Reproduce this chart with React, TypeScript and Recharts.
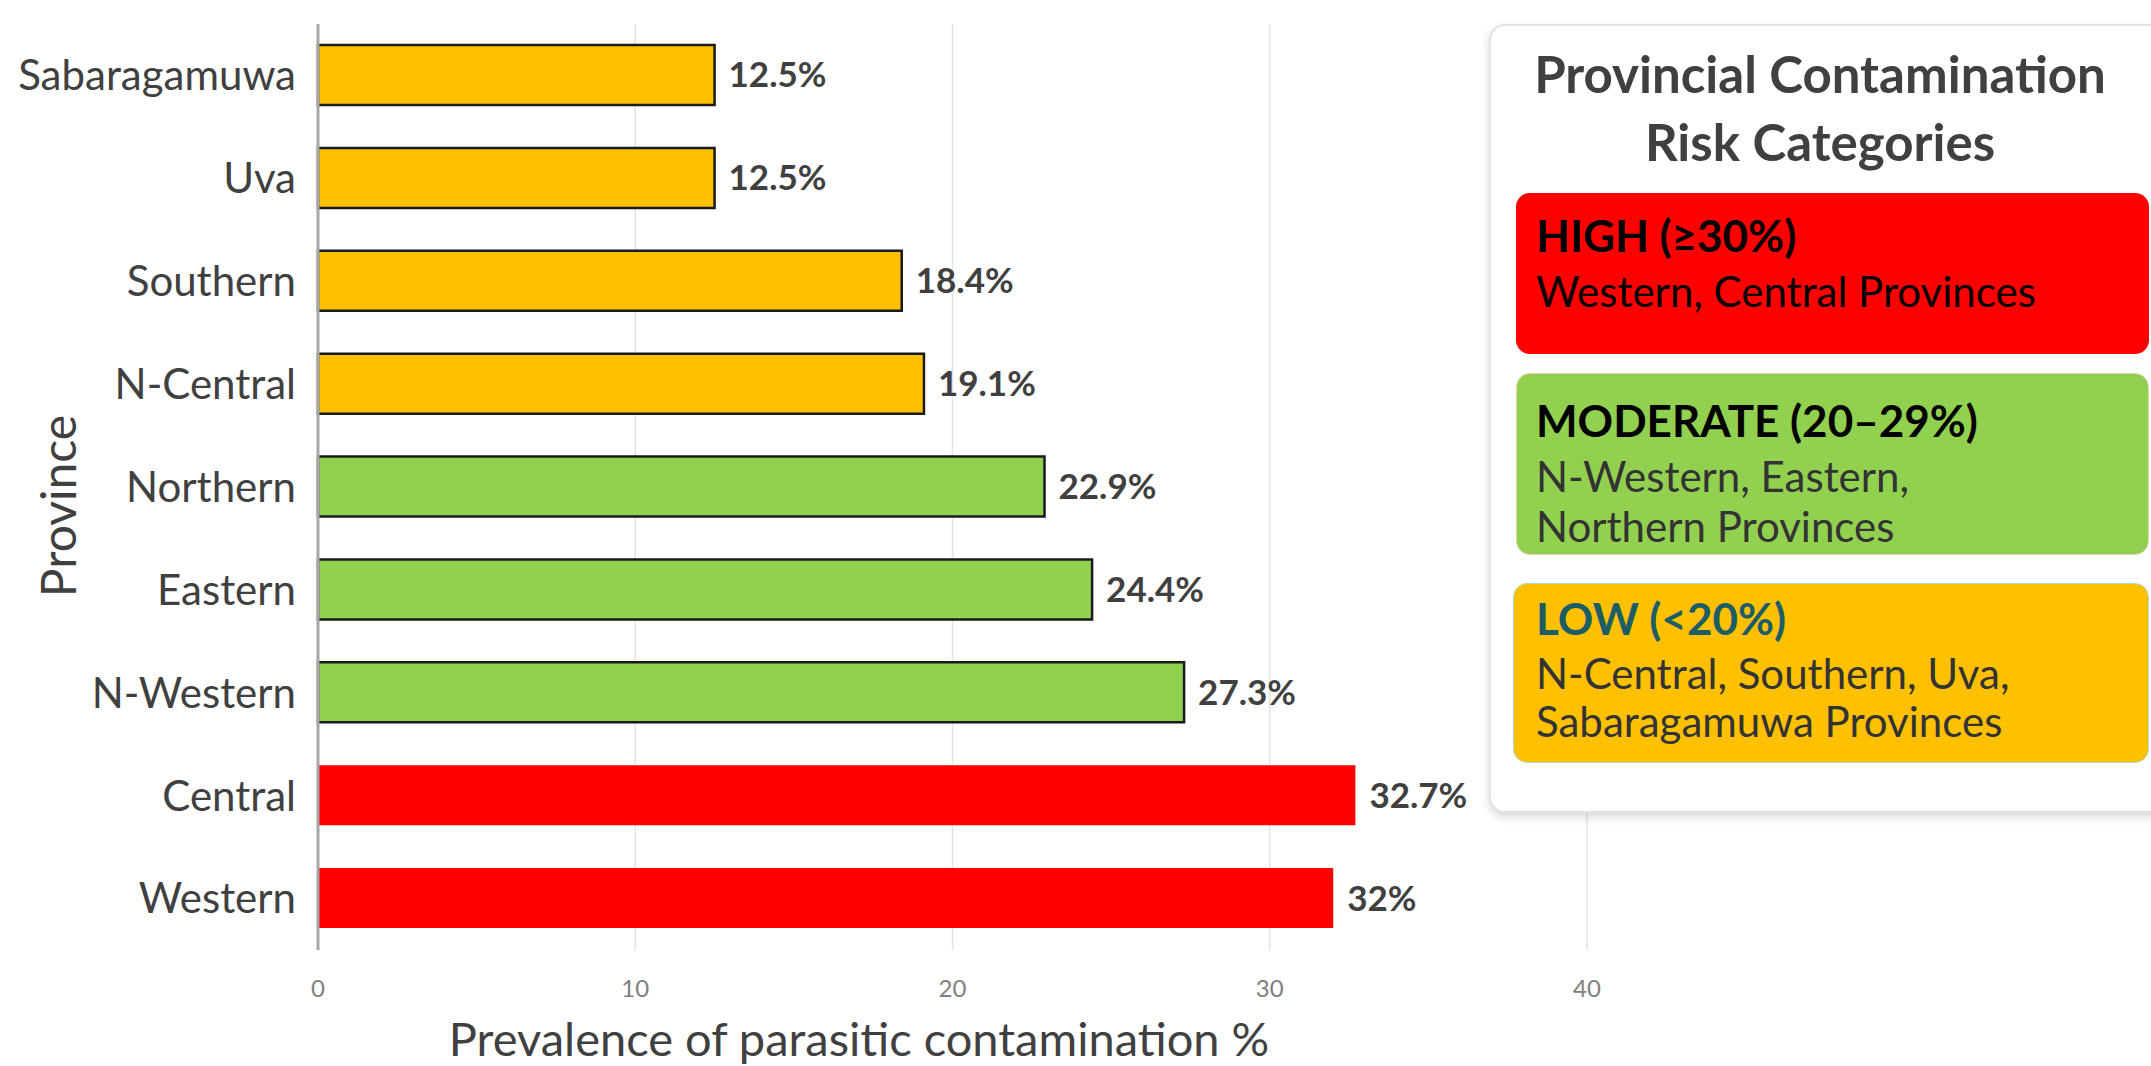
import { Bar, BarChart, CartesianGrid, Cell, LabelList, XAxis, YAxis } from "recharts";

const provinces = ["Sabaragamuwa", "Uva", "Southern", "N-Central", "Northern", "Eastern", "N-Western", "Central", "Western"];
const prevalence = [12.5, 12.5, 18.4, 19.1, 22.9, 24.4, 27.3, 32.7, 32];
const riskLevels = ["low", "low", "low", "low", "moderate", "moderate", "moderate", "high", "high"];
const xTicks = [0, 10, 20, 30, 40];

const riskFill: Record<string, string> = { high: "#FF0000", moderate: "#92D050", low: "#FFC000" };
const riskStroke: Record<string, string> = { high: "none", moderate: "#1a1a1a", low: "#1a1a1a" };

const chartData = provinces.map((name, i) => ({ name, value: prevalence[i], risk: riskLevels[i] }));

const FONT = "Lato, 'Open Sans', sans-serif";

function line(top: number, text: string, size: number, weight: number, color: string) {
    return (
        <div
            style={{
                position: "absolute",
                left: 1536,
                top,
                fontSize: size,
                lineHeight: `${size}px`,
                fontWeight: weight,
                color,
                whiteSpace: "nowrap",
            }}
        >
            {text}
        </div>
    );
}

export default function App() {
    return (
        <div
            style={{
                position: "absolute",
                left: 0,
                top: 0,
                width: 2151,
                height: 1066,
                overflow: "hidden",
                background: "#fff",
                fontFamily: FONT,
            }}
        >
            <BarChart
                width={2151}
                height={1066}
                data={chartData}
                layout="vertical"
                margin={{ top: 24, right: 564, bottom: 0, left: 0 }}
            >
                <CartesianGrid horizontal={false} stroke="#e4e4e4" strokeWidth={1.5} />
                <XAxis
                    type="number"
                    domain={[0, 40]}
                    ticks={xTicks}
                    height={116}
                    axisLine={false}
                    tickLine={false}
                    tickSize={0}
                    tickMargin={30}
                    tick={{ fontSize: 24, fill: "#808080" }}
                />
                <YAxis
                    type="category"
                    dataKey="name"
                    width={318}
                    axisLine={{ stroke: "#a6a6a6", strokeWidth: 3 }}
                    tickLine={false}
                    tickSize={0}
                    tickMargin={22}
                    tick={{ fontSize: 42, fill: "#404040" }}
                />
                <Bar dataKey="value" barSize={60} isAnimationActive={false}>
                    {chartData.map((d) => (
                        <Cell key={d.name} fill={riskFill[d.risk]} stroke={riskStroke[d.risk]} strokeWidth={2.5} />
                    ))}
                    <LabelList
                        dataKey="value"
                        position="right"
                        offset={14}
                        formatter={(v: number) => `${v}%`}
                        style={{ fill: "#404040", fontSize: 35, fontWeight: 700 }}
                    />
                </Bar>
            </BarChart>

            {/* axis titles */}
            <div
                style={{
                    position: "absolute",
                    left: 359,
                    top: 1015,
                    width: 1000,
                    textAlign: "center",
                    fontSize: 47,
                    lineHeight: "47px",
                    color: "#404040",
                    whiteSpace: "nowrap",
                }}
            >
                Prevalence of parasitic contamination %
            </div>
            <div
                style={{
                    position: "absolute",
                    left: 58 - 200,
                    top: 506 - 24,
                    width: 400,
                    height: 48,
                    textAlign: "center",
                    fontSize: 48,
                    lineHeight: "48px",
                    color: "#404040",
                    transform: "rotate(-90deg)",
                }}
            >
                Province
            </div>

            {/* risk category panel */}
            <div
                style={{
                    position: "absolute",
                    left: 1489,
                    top: 24,
                    width: 700,
                    height: 789,
                    boxSizing: "border-box",
                    background: "#fff",
                    border: "2px solid #e2e2e2",
                    borderRadius: 16,
                    boxShadow: "0 4px 10px rgba(0,0,0,0.16)",
                }}
            />
            <div
                style={{
                    position: "absolute",
                    left: 1489,
                    top: 40,
                    width: 662,
                    textAlign: "center",
                    fontSize: 51,
                    lineHeight: "68px",
                    fontWeight: 700,
                    color: "#404040",
                }}
            >
                Provincial Contamination
                <br />
                Risk Categories
            </div>

            <div style={{ position: "absolute", left: 1516, top: 193, width: 633, height: 161, background: "#FF0000", borderRadius: 14 }} />
            <div style={{ position: "absolute", left: 1516, top: 373, width: 633, height: 182, boxSizing: "border-box", background: "#92D050", border: "1.5px solid #e9cfa8", borderRadius: 14 }} />
            <div style={{ position: "absolute", left: 1513, top: 583, width: 636, height: 180, boxSizing: "border-box", background: "#FFC000", border: "1.5px solid #a9dcd2", borderRadius: 14 }} />

            {line(213, "HIGH (≥30%)", 44, 700, "#000")}
            {line(270, "Western, Central Provinces", 42, 400, "#000")}
            {line(398, "MODERATE (20–29%)", 44, 700, "#000")}
            {line(455, "N-Western, Eastern,", 42, 400, "#333")}
            {line(505, "Northern Provinces", 42, 400, "#333")}
            {line(596, "LOW (<20%)", 44, 700, "#1d5e66")}
            {line(652, "N-Central, Southern, Uva,", 42, 400, "#333")}
            {line(700, "Sabaragamuwa Provinces", 42, 400, "#333")}
        </div>
    );
}
